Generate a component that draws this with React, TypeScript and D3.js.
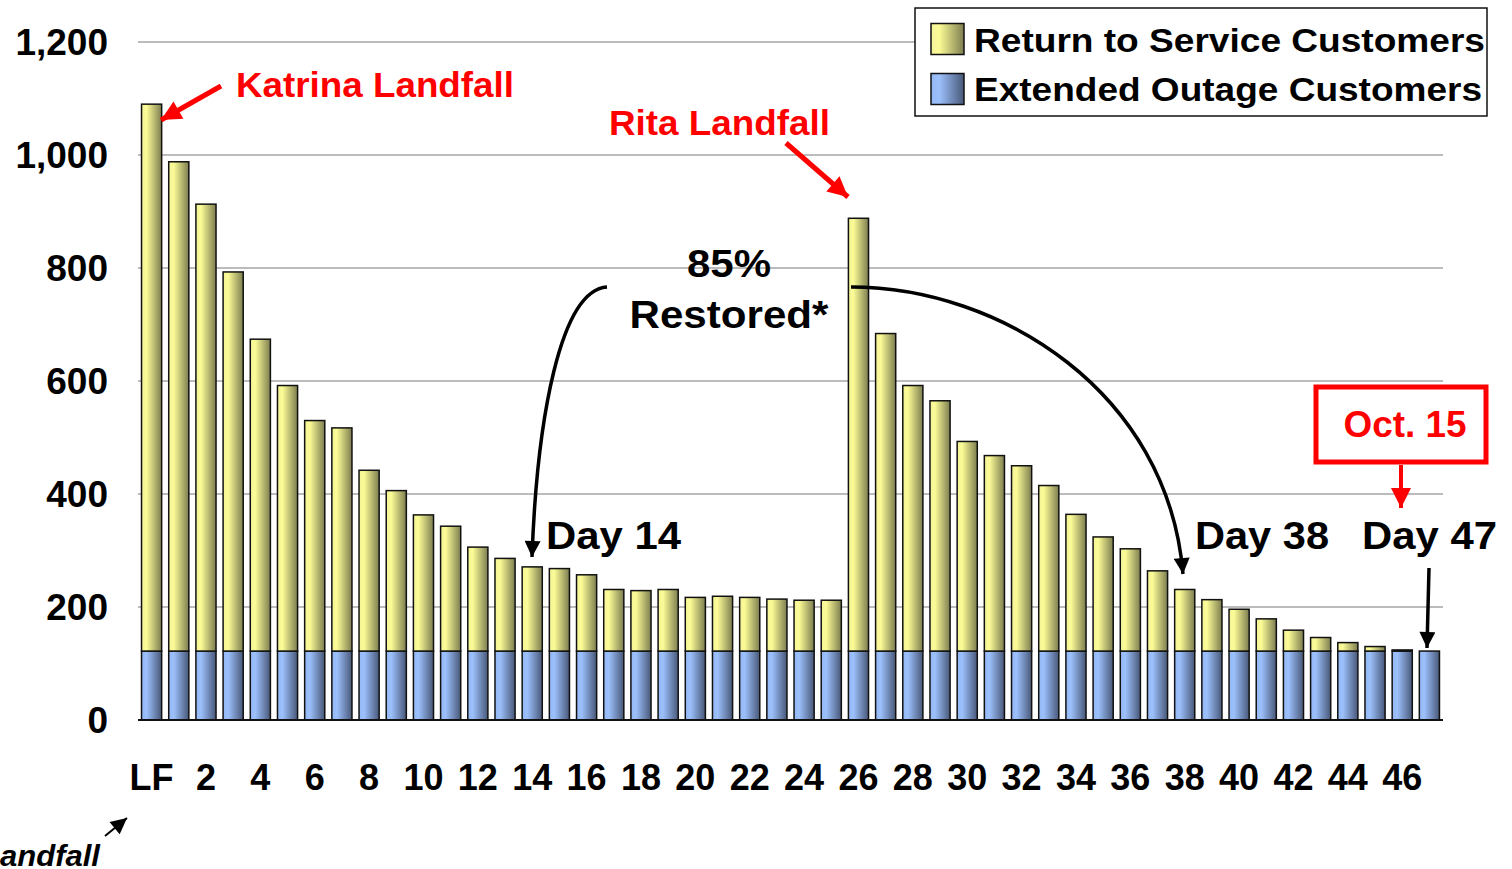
import React from "react";
import * as d3 from "d3";

// days since Katrina landfall (LF = landfall day)
const days = [
  "LF", "1", "2", "3", "4", "5", "6", "7", "8", "9", "10", "11", "12", "13", "14", "15",
  "16", "17", "18", "19", "20", "21", "22", "23", "24", "25", "26", "27", "28", "29", "30", "31",
  "32", "33", "34", "35", "36", "37", "38", "39", "40", "41", "42", "43", "44", "45", "46", "47",
];

// customers out (thousands)
const extendedOutage = [
  122, 122, 122, 122, 122, 122, 122, 122, 122, 122, 122, 122, 122, 122, 122, 122,
  122, 122, 122, 122, 122, 122, 122, 122, 122, 122, 122, 122, 122, 122, 122, 122,
  122, 122, 122, 122, 122, 122, 122, 122, 122, 122, 122, 122, 122, 122, 122, 122,
];
const returnToService = [
  968, 866, 791, 671, 552, 470, 408, 395, 320, 284, 241, 221, 184, 164, 149, 146,
  135, 109, 107, 109, 95, 97, 95, 92, 90, 90, 766, 562, 470, 443, 371, 346,
  328, 293, 242, 202, 181, 142, 109, 91, 74, 57, 37, 24, 15, 8, 2, 0,
];

const xTickLabels = ["LF", "2", "4", "6", "8", "10", "12", "14", "16", "18", "20", "22", "24", "26", "28", "30", "32", "34", "36", "38", "40", "42", "44", "46"];
const yTicks = [0, 200, 400, 600, 800, 1000, 1200];

const W = 1512;
const H = 869;
const font = "'Liberation Sans', Arial, sans-serif";

export default function App() {
  const x = d3.scaleBand<string>().domain(days).range([138, 1443]).paddingInner(0.26).paddingOuter(0.13);
  const y = d3.scaleLinear().domain([0, 1200]).range([720, 42]);

  const rows = days.map((d, i) => ({ day: d, extended: extendedOutage[i], ret: returnToService[i] }));
  const stack = d3.stack<any>().keys(["extended", "ret"])(rows);
  const fills = ["url(#blueGrad)", "url(#yellowGrad)"];

  const tickFmt = d3.format(",");

  return (
    <svg width={W} height={H} style={{ position: "absolute", left: 0, top: 0, background: "#fff" }} fontFamily={font}>
      <defs>
        <linearGradient id="yellowGrad" x1="0" x2="1" y1="0" y2="0">
          <stop offset="0" stopColor="#f4f49a" />
          <stop offset="0.25" stopColor="#fbfb96" />
          <stop offset="1" stopColor="#7d7d50" />
        </linearGradient>
        <linearGradient id="blueGrad" x1="0" x2="1" y1="0" y2="0">
          <stop offset="0" stopColor="#94b8f4" />
          <stop offset="0.25" stopColor="#9cc0fc" />
          <stop offset="1" stopColor="#485878" />
        </linearGradient>
        <marker id="redHead" viewBox="0 0 10 10" refX="10" refY="5" markerUnits="userSpaceOnUse" markerWidth="22" markerHeight="20" orient="auto">
          <path d="M0,0 L10,5 L0,10 Z" fill="#ff0000" />
        </marker>
        <marker id="blackHead" viewBox="0 0 10 10" refX="10" refY="5" markerUnits="userSpaceOnUse" markerWidth="17" markerHeight="16" orient="auto">
          <path d="M0,0 L10,5 L0,10 Z" fill="#000" />
        </marker>
      </defs>

      {/* gridlines */}
      {yTicks.filter((t) => t > 0).map((t) => (
        <line key={t} x1={138} x2={1443} y1={y(t)} y2={y(t)} stroke="#a6a6a6" strokeWidth={1.5} />
      ))}

      {/* y tick labels */}
      {yTicks.map((t) => (
        <text key={t} x={108} y={y(t)} dy="0.36em" textAnchor="end" fontSize={37} fontWeight="bold">
          {tickFmt(t)}
        </text>
      ))}

      {/* stacked bars */}
      {stack.map((layer, li) =>
        layer.map((seg, i) => {
          const h = y(seg[0]) - y(seg[1]);
          if (h <= 0) return null;
          return (
            <rect
              key={li + "-" + i}
              x={x(days[i])}
              y={y(seg[1])}
              width={x.bandwidth()}
              height={h}
              fill={fills[li]}
              stroke="#111"
              strokeWidth={1.5}
            />
          );
        })
      )}

      {/* baseline */}
      <line x1={138} x2={1443} y1={y(0)} y2={y(0)} stroke="#111" strokeWidth={2} />

      {/* x tick labels */}
      {xTickLabels.map((d) => (
        <text key={d} x={(x(d) ?? 0) + x.bandwidth() / 2} y={777} dy="0.36em" textAnchor="middle" fontSize={36} fontWeight="bold">
          {d}
        </text>
      ))}

      {/* legend */}
      <rect x={915} y={8} width={572} height={108} fill="#fff" stroke="#111" strokeWidth={1.5} />
      <rect x={931} y={23.5} width={33} height={31} fill="url(#yellowGrad)" stroke="#111" strokeWidth={1.5} />
      <rect x={931} y={73.5} width={33} height={31} fill="url(#blueGrad)" stroke="#111" strokeWidth={1.5} />
      <text x={974} y={40} dy="0.36em" fontSize={33} fontWeight="bold" textLength={511} lengthAdjust="spacingAndGlyphs">
        Return to Service Customers
      </text>
      <text x={974} y={89} dy="0.36em" fontSize={33} fontWeight="bold" textLength={508} lengthAdjust="spacingAndGlyphs">
        Extended Outage Customers
      </text>

      {/* Katrina */}
      <text x={236} y={84} dy="0.36em" fontSize={35} fontWeight="bold" fill="#ff0000" textLength={278} lengthAdjust="spacingAndGlyphs">
        Katrina Landfall
      </text>
      <line x1={221} y1={86} x2={161} y2={120} stroke="#ff0000" strokeWidth={5} markerEnd="url(#redHead)" />

      {/* Rita */}
      <text x={609} y={122} dy="0.36em" fontSize={35} fontWeight="bold" fill="#ff0000" textLength={221} lengthAdjust="spacingAndGlyphs">
        Rita Landfall
      </text>
      <line x1={786} y1={143} x2={848} y2={197} stroke="#ff0000" strokeWidth={5} markerEnd="url(#redHead)" />

      {/* 85% restored */}
      <text x={729} y={263} dy="0.36em" textAnchor="middle" fontSize={38} fontWeight="bold" textLength={84} lengthAdjust="spacingAndGlyphs">85%</text>
      <text x={729} y={314} dy="0.36em" textAnchor="middle" fontSize={38} fontWeight="bold" textLength={199} lengthAdjust="spacingAndGlyphs">
        Restored*
      </text>
      <path d="M607,287 C560,290 537,420 532,557" fill="none" stroke="#000" strokeWidth={3.5} markerEnd="url(#blackHead)" />
      <path d="M851,287 C1000,287 1168,392 1183,574" fill="none" stroke="#000" strokeWidth={3.5} markerEnd="url(#blackHead)" />

      {/* day labels */}
      <text x={546} y={535} dy="0.36em" fontSize={38} fontWeight="bold" textLength={135} lengthAdjust="spacingAndGlyphs">Day 14</text>
      <text x={1195} y={535} dy="0.36em" fontSize={38} fontWeight="bold" textLength={134} lengthAdjust="spacingAndGlyphs">Day 38</text>
      <text x={1362} y={535} dy="0.36em" fontSize={38} fontWeight="bold" textLength={135} lengthAdjust="spacingAndGlyphs">Day 47</text>
      <line x1={1429} y1={568} x2={1427} y2={648} stroke="#000" strokeWidth={3.5} markerEnd="url(#blackHead)" />

      {/* Oct. 15 */}
      <rect x={1316} y={387} width={170} height={75} fill="#fff" stroke="#ff0000" strokeWidth={5} />
      <text x={1405} y={424} dy="0.36em" textAnchor="middle" fontSize={36} fontWeight="bold" fill="#ff0000" textLength={123} lengthAdjust="spacingAndGlyphs">Oct. 15</text>
      <line x1={1401} y1={465} x2={1401} y2={508} stroke="#ff0000" strokeWidth={4} markerEnd="url(#redHead)" />

      {/* footnote */}
      <text x={0} y={855} dy="0.36em" fontSize={30} fontWeight="bold" fontStyle="italic" textLength={100} lengthAdjust="spacingAndGlyphs">andfall</text>
      <line x1={105} y1={836} x2={127} y2={818} stroke="#000" strokeWidth={2} markerEnd="url(#blackHead)" />
    </svg>
  );
}
